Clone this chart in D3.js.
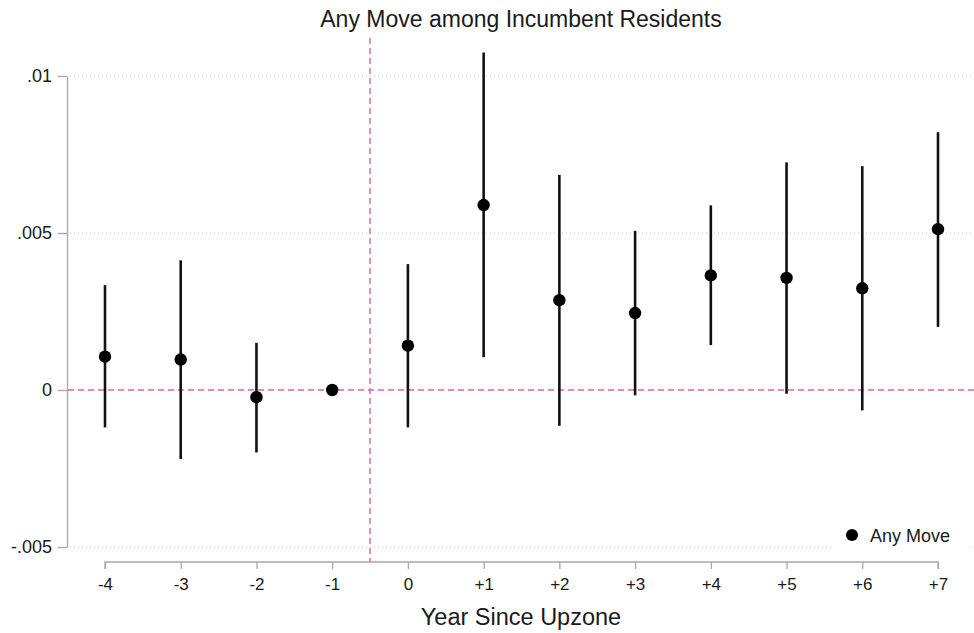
<!DOCTYPE html>
<html>
<head>
<meta charset="utf-8">
<script src="https://cdn.jsdelivr.net/npm/d3@7"></script>
<style>
  body { margin: 0; background: #fff; }
  svg { display: block; font-family: "Liberation Sans", Arial, sans-serif; }
</style>
</head>
<body>
<svg id="chart" width="974" height="633"></svg>
<script>
const years = [-4, -3, -2, -1, 0, 1, 2, 3, 4, 5, 6, 7];
const yearLabels = ["-4", "-3", "-2", "-1", "0", "+1", "+2", "+3", "+4", "+5", "+6", "+7"];
const estimates = [0.00106, 0.00097, -0.00023, 0, 0.00141, 0.00589, 0.00286, 0.00245, 0.00365, 0.00357, 0.00324, 0.00512];
const ciLow =     [-0.00119, -0.0022, -0.00199, 0, -0.00119, 0.00104, -0.00114, -0.00017, 0.00143, -0.00012, -0.00065, 0.00201];
const ciHigh =    [0.00334, 0.00413, 0.0015, 0, 0.00401, 0.01075, 0.00685, 0.00507, 0.00588, 0.00725, 0.00713, 0.00821];
const yTicks = [-0.005, 0, 0.005, 0.01];
const yTickLabels = ["-.005", "0", ".005", ".01"];

const svg = d3.select("#chart");
const W = 974, H = 633;

const x = d3.scaleLinear().domain([-4, 7]).range([105, 938]);
const y = d3.scaleLinear().domain([-0.005, 0.01]).range([547, 76]);

const axisColor = "#a8a8a8";
const pink = "#d865a8";
const FONT = "Liberation Sans, Arial, sans-serif";

// gridlines
svg.append("g").selectAll("line")
  .data(yTicks.filter(v => v !== 0))
  .join("line")
  .attr("x1", 70).attr("x2", W)
  .attr("y1", d => y(d)).attr("y2", d => y(d))
  .attr("stroke", "#c8c8c8").attr("stroke-width", 1)
  .attr("stroke-dasharray", "1,3");

// y axis
const yAxis = d3.axisLeft(y).tickValues(yTicks)
  .tickFormat((d, i) => yTickLabels[i]).tickSize(9).tickSizeOuter(0).tickPadding(6);
const gy = svg.append("g").attr("transform", "translate(67,0)").call(yAxis);
gy.attr("font-size", null).attr("font-family", null);
gy.select(".domain").attr("stroke", axisColor).attr("stroke-width", 1.3);
gy.selectAll(".tick line").attr("stroke", axisColor).attr("stroke-width", 1.3);
gy.selectAll(".tick text").attr("fill", "#1a1a1a").style("font-size", "18px")
  .style("font-family", FONT);

// x axis
const xAxis = d3.axisBottom(x).tickValues(years)
  .tickFormat((d, i) => yearLabels[i]).tickSize(7).tickSizeOuter(0).tickPadding(9);
const gx = svg.append("g").attr("transform", "translate(0,562)").call(xAxis);
gx.attr("font-size", null).attr("font-family", null);
gx.select(".domain").attr("stroke", axisColor).attr("stroke-width", 1.3)
  .attr("d", `M${x(-4)},7V0H${x(7)}V7`);
gx.selectAll(".tick line").attr("stroke", axisColor).attr("stroke-width", 1.3);
gx.selectAll(".tick text").attr("fill", "#1a1a1a").style("font-size", "17px")
  .style("font-family", FONT);

// reference lines
svg.append("line")
  .attr("x1", 68).attr("x2", W)
  .attr("y1", y(0)).attr("y2", y(0))
  .attr("stroke", pink).attr("stroke-width", 1.4).attr("stroke-dasharray", "6,4");
svg.append("line")
  .attr("x1", x(-0.5)).attr("x2", x(-0.5))
  .attr("y1", 38).attr("y2", 562)
  .attr("stroke", pink).attr("stroke-width", 1.4).attr("stroke-dasharray", "6,4");

// CIs
const data = years.map((yr, i) => ({yr, est: estimates[i], lo: ciLow[i], hi: ciHigh[i]}));
svg.append("g").selectAll("line")
  .data(data.filter(d => d.hi !== d.lo))
  .join("line")
  .attr("x1", d => x(d.yr)).attr("x2", d => x(d.yr))
  .attr("y1", d => y(d.lo)).attr("y2", d => y(d.hi))
  .attr("stroke", "#111").attr("stroke-width", 2.6);

// points
svg.append("g").selectAll("circle")
  .data(data)
  .join("circle")
  .attr("cx", d => x(d.yr)).attr("cy", d => y(d.est))
  .attr("r", 6.2).attr("fill", "#000");

// legend
const lg = svg.append("g");
lg.append("rect").attr("x", 833).attr("y", 518).attr("width", 136).attr("height", 36).attr("fill", "#fff");
lg.append("circle").attr("cx", 852).attr("cy", 535).attr("r", 6).attr("fill", "#000");
lg.append("text").attr("x", 870).attr("y", 542).text("Any Move")
  .attr("fill", "#1a1a1a").style("font-size", "18px");

// title
svg.append("text").attr("x", 521).attr("y", 27).attr("text-anchor", "middle")
  .text("Any Move among Incumbent Residents").attr("fill", "#1a1a1a").style("font-size", "23px");

// x title
svg.append("text").attr("x", 521).attr("y", 625).attr("text-anchor", "middle")
  .text("Year Since Upzone").attr("fill", "#1a1a1a").style("font-size", "23.5px");
</script>
</body>
</html>
